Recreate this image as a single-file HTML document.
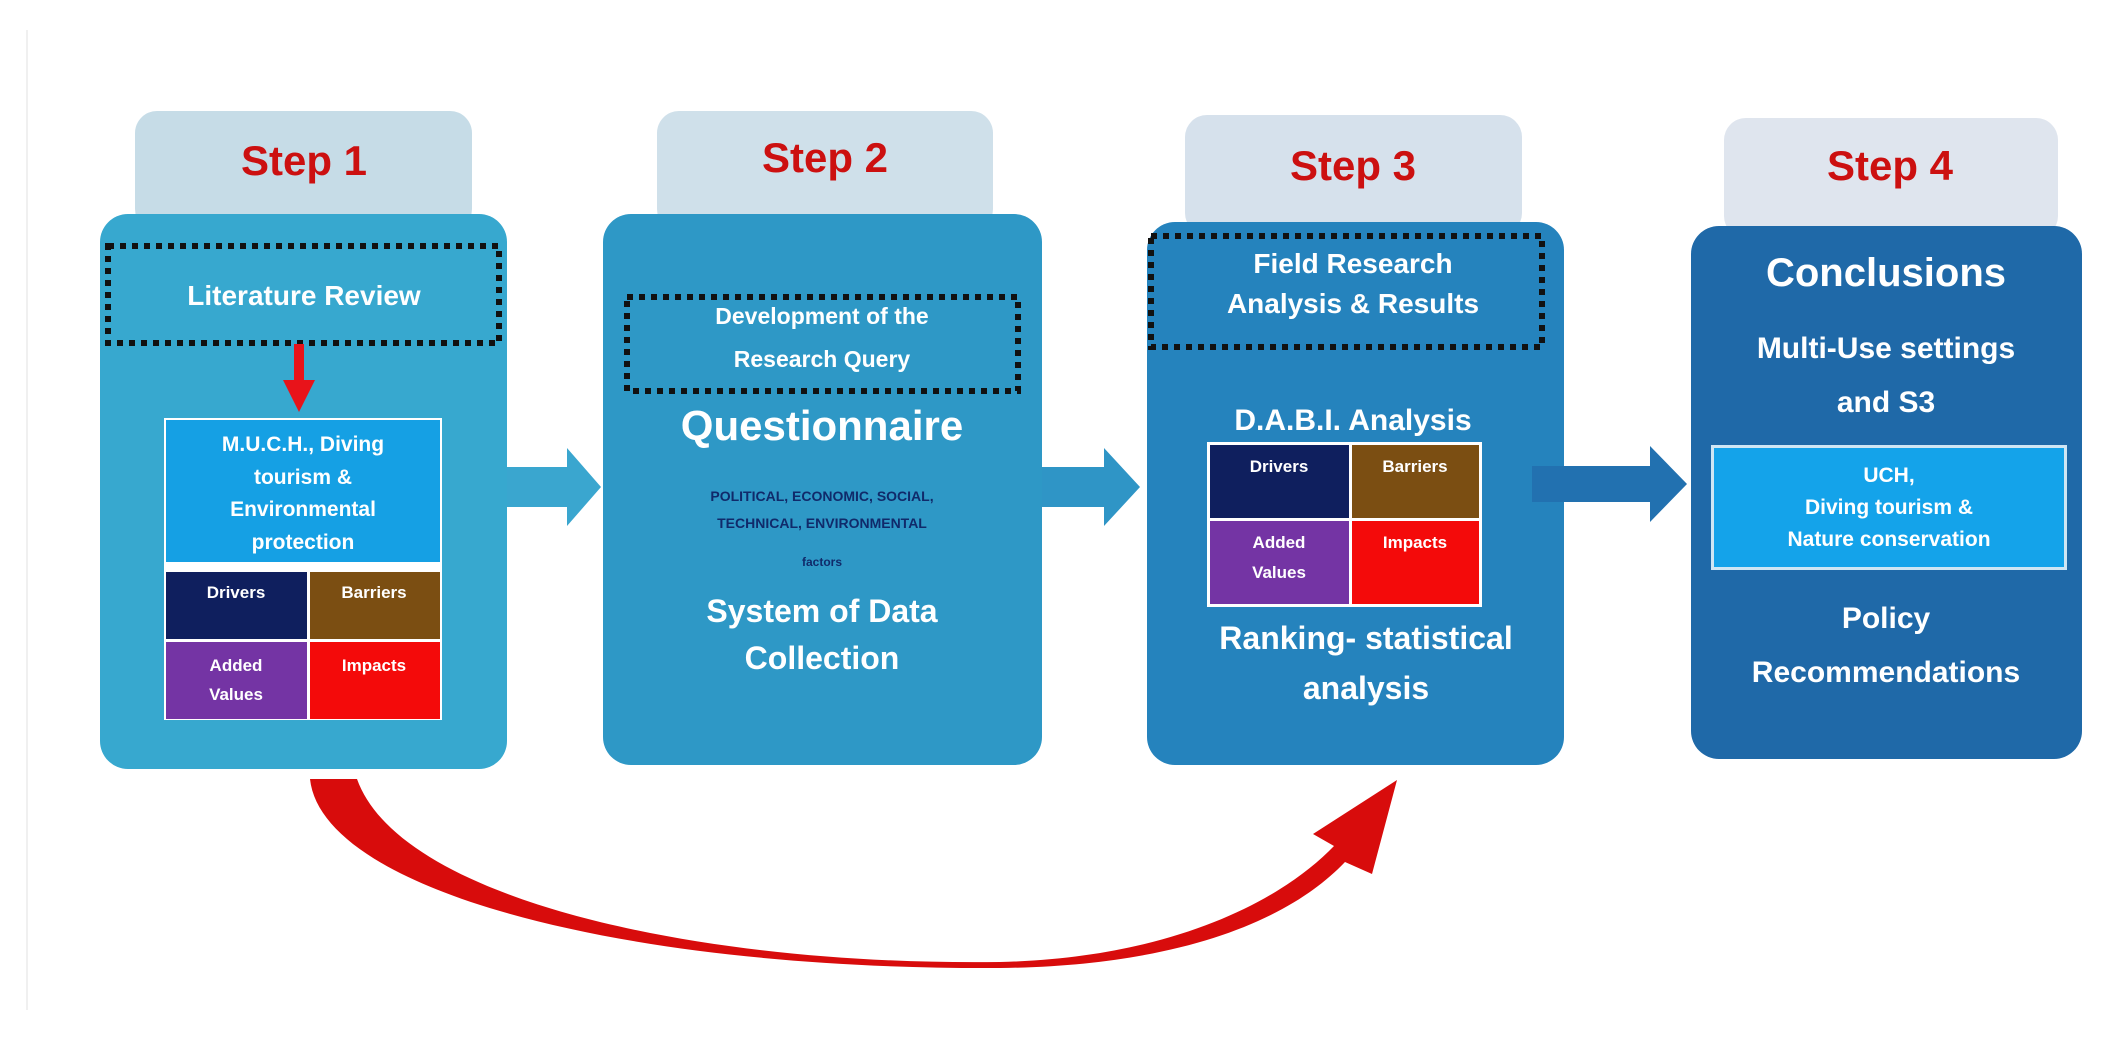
<!DOCTYPE html>
<html><head><meta charset="utf-8"><style>
html,body{margin:0;padding:0;background:#fff;}
svg{display:block;}
text{font-family:"Liberation Sans",sans-serif;font-weight:bold;text-anchor:middle;}
</style></head><body>
<svg width="2114" height="1041" viewBox="0 0 2114 1041" xmlns="http://www.w3.org/2000/svg">
<rect x="26" y="30" width="2" height="980" fill="#f0f0f0"/>
<!-- tabs -->
<rect x="135" y="111" width="337" height="120" rx="22" fill="#c6dce7"/>
<rect x="657" y="111" width="336" height="120" rx="22" fill="#cfe0ea"/>
<rect x="1185" y="115" width="337" height="120" rx="22" fill="#d6e1ec"/>
<rect x="1724" y="118" width="334" height="120" rx="22" fill="#dfe5ee"/>
<text x="304" y="175" font-size="42" fill="#cc1010">Step 1</text>
<text x="825" y="172" font-size="42" fill="#cc1010">Step 2</text>
<text x="1353" y="180" font-size="42" fill="#cc1010">Step 3</text>
<text x="1890" y="180" font-size="42" fill="#cc1010">Step 4</text>
<!-- boxes -->
<rect x="100" y="214" width="407" height="555" rx="28" fill="#37a8cf"/>
<rect x="603" y="214" width="439" height="551" rx="28" fill="#2e98c6"/>
<rect x="1147" y="222" width="417" height="543" rx="28" fill="#2583bd"/>
<rect x="1691" y="226" width="391" height="533" rx="28" fill="#1f69a8"/>
<!-- arrows -->
<path d="M507,467 H567 V448 L601,487 L567,526 V507 H507 Z" fill="#3aa6cf"/>
<path d="M1042,467 H1104 V448 L1140,487 L1104,526 V507 H1042 Z" fill="#2f95c6"/>
<path d="M1532,466 H1650 V446 L1687,484 L1650,522 V502 H1532 Z" fill="#2271b0"/>
<!-- step1 -->
<rect x="108" y="246" width="391" height="97" fill="none" stroke="#111" stroke-width="6" stroke-dasharray="6 6"/>
<text x="304" y="305" font-size="28" fill="#fff">Literature Review</text>
<rect x="294" y="344" width="10" height="40" fill="#e8131a"/>
<path d="M283,380 H315 L299,412 Z" fill="#e8131a"/>
<rect x="164" y="418" width="278" height="302" fill="#fff"/>
<rect x="166" y="420" width="274" height="142" fill="#15a0e4"/>
<text font-size="21" fill="#fff"><tspan x="303" y="451">M.U.C.H., Diving</tspan><tspan x="303" y="484">tourism &amp;</tspan><tspan x="303" y="516">Environmental</tspan><tspan x="303" y="549">protection</tspan></text>
<rect x="166" y="572" width="141" height="67" fill="#0f1f5e"/>
<rect x="310" y="572" width="130" height="67" fill="#7b4e12"/>
<rect x="166" y="642" width="141" height="77" fill="#7434a4"/>
<rect x="310" y="642" width="130" height="77" fill="#f40a0a"/>
<text font-size="17" fill="#fff"><tspan x="236" y="598">Drivers</tspan><tspan x="374" y="598">Barriers</tspan><tspan x="236" y="671">Added</tspan><tspan x="236" y="700">Values</tspan><tspan x="374" y="671">Impacts</tspan></text>
<!-- step2 -->
<rect x="627" y="297" width="391" height="94" fill="none" stroke="#111" stroke-width="6" stroke-dasharray="6 6"/>
<text font-size="23" fill="#fff"><tspan x="822" y="324">Development of the</tspan><tspan x="822" y="367">Research Query</tspan></text>
<text x="822" y="440" font-size="42" fill="#fff">Questionnaire</text>
<text font-size="14" fill="#102a6a"><tspan x="822" y="501">POLITICAL, ECONOMIC, SOCIAL,</tspan><tspan x="822" y="528">TECHNICAL, ENVIRONMENTAL</tspan><tspan x="822" y="566" font-size="12">factors</tspan></text>
<text font-size="32" fill="#fff"><tspan x="822" y="622">System of Data</tspan><tspan x="822" y="669">Collection</tspan></text>
<!-- step3 -->
<rect x="1151" y="236" width="391" height="111" fill="none" stroke="#111" stroke-width="6" stroke-dasharray="6 6"/>
<text font-size="28" fill="#fff"><tspan x="1353" y="273">Field Research</tspan><tspan x="1353" y="313">Analysis &amp; Results</tspan></text>
<text x="1353" y="430" font-size="30" fill="#fff">D.A.B.I. Analysis</text>
<rect x="1207" y="442" width="275" height="165" fill="#fff"/>
<rect x="1210" y="445" width="139" height="73" fill="#0f1f5e"/>
<rect x="1352" y="445" width="127" height="73" fill="#7b4e12"/>
<rect x="1210" y="521" width="139" height="83" fill="#7434a4"/>
<rect x="1352" y="521" width="127" height="83" fill="#f40a0a"/>
<text font-size="17" fill="#fff"><tspan x="1279" y="472">Drivers</tspan><tspan x="1415" y="472">Barriers</tspan><tspan x="1279" y="548">Added</tspan><tspan x="1279" y="578">Values</tspan><tspan x="1415" y="548">Impacts</tspan></text>
<text font-size="32" fill="#fff"><tspan x="1366" y="649">Ranking- statistical</tspan><tspan x="1366" y="699">analysis</tspan></text>
<!-- step4 -->
<text x="1886" y="286" font-size="40" fill="#fff">Conclusions</text>
<text font-size="30" fill="#fff"><tspan x="1886" y="358">Multi-Use settings</tspan><tspan x="1886" y="412">and S3</tspan></text>
<rect x="1711" y="445" width="356" height="125" fill="#cfe6f4"/>
<rect x="1714" y="448" width="350" height="119" fill="#14a3ea"/>
<text font-size="21" fill="#fff"><tspan x="1889" y="482">UCH,</tspan><tspan x="1889" y="514">Diving tourism &amp;</tspan><tspan x="1889" y="546">Nature conservation</tspan></text>
<text font-size="30" fill="#fff"><tspan x="1886" y="628">Policy</tspan><tspan x="1886" y="682">Recommendations</tspan></text>
<!-- red curve -->
<path d="M310,779 C322,890 620,970 1000,968 C1180,966 1290,920 1345,862 L1372,874 L1397,780 L1313,834 L1334,846 C1280,902 1170,958 1000,962 C700,966 400,900 357,779 Z" fill="#d80c0c"/>
</svg>
</body></html>
